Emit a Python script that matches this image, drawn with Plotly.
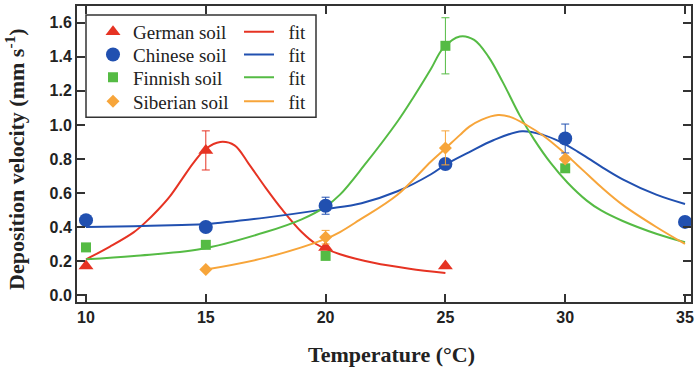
import plotly.graph_objects as go

# ---- data ----
temps_german = [10, 15, 20, 25]
german = [0.17, 0.85, 0.28, 0.17]
german_err = [0, 0.115, 0, 0]

temps_chinese = [10, 15, 20, 25, 30, 35]
chinese = [0.44, 0.40, 0.525, 0.77, 0.92, 0.43]
chinese_err = [0, 0, 0.05, 0, 0.085, 0]

temps_finnish = [10, 15, 20, 25, 30]
finnish = [0.28, 0.295, 0.23, 1.465, 0.745]
finnish_err = [0, 0, 0, 0.165, 0]

temps_siberian = [15, 20, 25, 30]
siberian = [0.15, 0.34, 0.865, 0.80]
siberian_err = [0, 0.04, 0.10, 0]

german_fit_x = [10, 11, 12, 12.5, 13, 13.5, 14, 14.5, 15, 15.6, 16.2, 16.8, 17.5, 18.2, 19, 19.6, 20.6, 22, 23.5, 25]
german_fit_y = [0.21, 0.285, 0.37, 0.43, 0.50, 0.58, 0.68, 0.78, 0.86, 0.90, 0.88, 0.77, 0.63, 0.50, 0.37, 0.30, 0.24, 0.19, 0.155, 0.13]

chinese_fit_x = [10, 12, 14, 15, 17.5, 20, 21.5, 23, 24.4, 25, 26, 27, 28.2, 29.1, 29.8, 30.5, 31, 31.5, 32.4, 33.8, 35]
chinese_fit_y = [0.40, 0.405, 0.412, 0.417, 0.455, 0.505, 0.54, 0.61, 0.71, 0.766, 0.84, 0.91, 0.963, 0.94, 0.90, 0.845, 0.80, 0.755, 0.68, 0.59, 0.535]

finnish_fit_x = [10, 12, 14.8, 17.5, 19, 20, 20.6, 21.6, 23, 23.7, 24.4, 24.9, 25.6, 26.2, 26.8, 27.4, 28.1, 28.7, 29.4, 30.1, 30.9, 31.5, 32.4, 33.8, 35]
finnish_fit_y = [0.21, 0.23, 0.27, 0.37, 0.445, 0.52, 0.59, 0.76, 1.02, 1.17, 1.33, 1.45, 1.52, 1.50, 1.40, 1.25, 1.056, 0.915, 0.775, 0.66, 0.555, 0.497, 0.435, 0.36, 0.31]

siberian_fit_x = [15, 17.5, 20, 20.6, 21.4, 23, 24.4, 25, 25.6, 26, 26.5, 27.2, 27.7, 28.4, 29.1, 29.8, 30.5, 31, 31.5, 32.4, 33.8, 35]
siberian_fit_y = [0.15, 0.22, 0.33, 0.37, 0.44, 0.59, 0.785, 0.862, 0.94, 0.99, 1.03, 1.058, 1.047, 0.998, 0.935, 0.855, 0.765, 0.70, 0.635, 0.53, 0.40, 0.30]

x_ticks = [10, 15, 20, 25, 30, 35]
y_ticks = [0.0, 0.2, 0.4, 0.6, 0.8, 1.0, 1.2, 1.4, 1.6]

RED, BLUE, GREEN, ORANGE = "#e63323", "#2150b0", "#55bb44", "#f7a53a"

W, H = 698, 369
L, R, T, B = 77, 7, 4, 67
PW, PH = W - L - R, H - T - B

def px_x(p):
    return (p - L) / PW

def px_y(p):
    return (H - B - p) / PH

fig = go.Figure()

series = [
    ("German soil", temps_german, german, german_err, german_fit_x, german_fit_y, RED, "triangle-up", 13),
    ("Chinese soil", temps_chinese, chinese, chinese_err, chinese_fit_x, chinese_fit_y, BLUE, "circle", 14),
    ("Finnish soil", temps_finnish, finnish, finnish_err, finnish_fit_x, finnish_fit_y, GREEN, "square", 10),
    ("Siberian soil", temps_siberian, siberian, siberian_err, siberian_fit_x, siberian_fit_y, ORANGE, "diamond", 10),
]

row_y = [30, 53, 76, 100]
legend_layouts = {}
# fit lines first
for i, (name, tx, ty, te, fx, fy, col, sym, sz) in enumerate(series):
    lg = "legend%d" % (2 * i + 2)
    fig.add_trace(go.Scatter(x=fx, y=fy, mode="lines", line=dict(color=col, width=2, shape="spline", smoothing=1),
                             name="\u00a0\u00a0fit", legend=lg, hoverinfo="skip"))
    legend_layouts[lg] = dict(x=px_x(239), y=px_y(row_y[i]), xanchor="left", yanchor="middle",
                              bgcolor="rgba(0,0,0,0)", font=dict(family="Liberation Serif", size=19, color="#222"))
for i, (name, tx, ty, te, fx, fy, col, sym, sz) in enumerate(series):
    lg = "legend" if i == 0 else "legend%d" % (2 * i + 1)
    fig.add_trace(go.Scatter(x=tx, y=ty, mode="markers", name=name, legend=lg,
                             marker=dict(color=col, symbol=sym, size=sz, line=dict(width=0)),
                             error_y=dict(type="data", array=te, visible=True, color=col, thickness=1, width=4)))
    legend_layouts[lg] = dict(x=px_x(93), y=px_y(row_y[i]), xanchor="left", yanchor="middle",
                              bgcolor="rgba(0,0,0,0)", font=dict(family="Liberation Serif", size=19, color="#222"))

fig.update_layout(**legend_layouts)

axis_common = dict(showgrid=False, zeroline=False, showline=True, linecolor="#333", linewidth=2,
                   mirror="ticks", ticks="inside", ticklen=8, tickwidth=1.5, tickcolor="#333",
                   tickfont=dict(family="Liberation Sans", size=16, weight="bold", color="#222"))

fig.update_xaxes(range=[9.624, 35.25], tickvals=x_ticks, ticktext=[str(v) for v in x_ticks], **axis_common)
fig.update_yaxes(range=[-0.041, 1.699], tickvals=y_ticks, ticktext=["%.1f" % v for v in y_ticks], **axis_common)

fig.update_layout(
    width=W, height=H,
    margin=dict(l=L, r=R, t=T, b=B),
    paper_bgcolor="white", plot_bgcolor="white",
    showlegend=True,
    shapes=[dict(type="rect", xref="paper", yref="paper",
                 x0=px_x(86), x1=px_x(316), y0=px_y(116), y1=px_y(13),
                 line=dict(color="#333", width=1.5), fillcolor="white", layer="below")],
    annotations=[
        dict(text="Temperature (°C)", xref="paper", yref="paper", x=px_x(391.5), y=px_y(355),
             xanchor="center", yanchor="middle", showarrow=False,
             font=dict(family="Liberation Serif", size=22, weight="bold", color="#222")),
        dict(text="Deposition velocity (mm s<sup>-1</sup>)", xref="paper", yref="paper", x=px_x(15), y=px_y(158),
             xanchor="center", yanchor="middle", textangle=-90, showarrow=False,
             font=dict(family="Liberation Serif", size=22, weight="bold", color="#222")),
    ],
)

fig.write_html("out.html")
